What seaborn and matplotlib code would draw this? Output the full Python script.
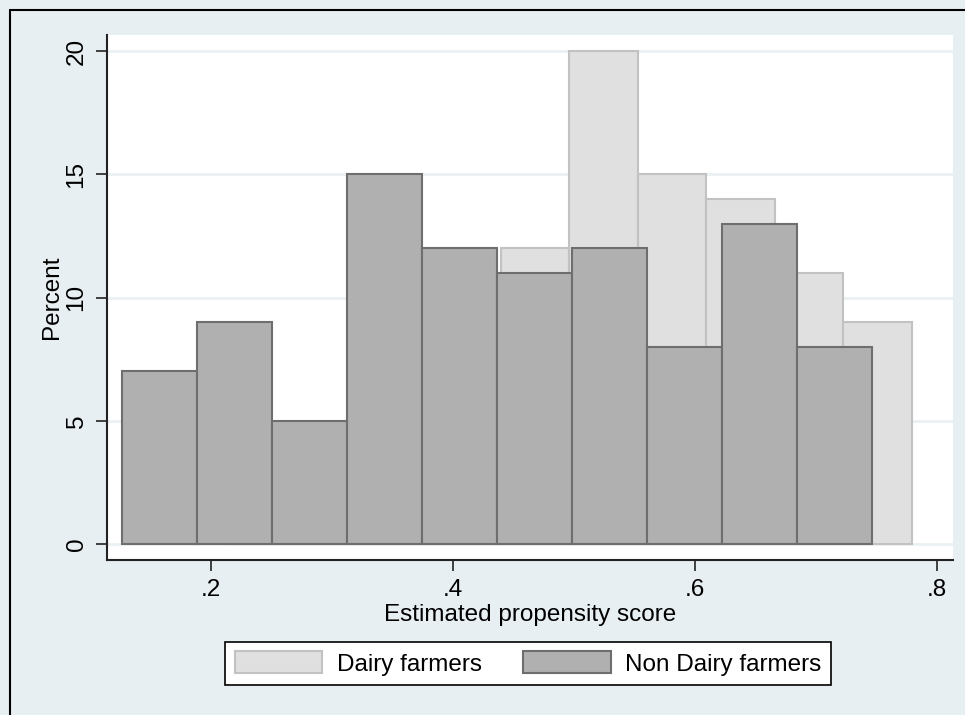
import numpy as np
import pandas as pd
import seaborn as sns
import matplotlib.pyplot as plt
from matplotlib.lines import Line2D
from matplotlib.patches import Patch

# percent per bin
nondairy_pct = [7, 9, 5, 15, 12, 11, 12, 8, 13, 8]
nondairy_start = 0.1264
nondairy_width = 0.062

# first four dairy bins sit behind the dark bars, guessed so the total is 100
dairy_pct = [3, 4, 5, 7, 12, 20, 15, 14, 11, 9]
dairy_start = 0.2128
dairy_width = 0.0566

group_labels = ["Dairy farmers", "Non Dairy farmers"]
xticks = [0.2, 0.4, 0.6, 0.8]
xtick_labels = [".2", ".4", ".6", ".8"]
yticks = [0, 5, 10, 15, 20]


def _bin_frame(start, width, pct):
    mids = start + width * (np.arange(len(pct)) + 0.5)
    df = pd.DataFrame({"x": mids, "pct": pct})
    binrange = (start, start + width * len(pct))
    return df, binrange


sns.set_theme(style="white")
plt.rcParams["font.family"] = ["Liberation Sans", "DejaVu Sans"]
plt.rcParams["text.color"] = "black"
plt.rcParams["axes.labelcolor"] = "black"
plt.rcParams["xtick.color"] = "black"
plt.rcParams["ytick.color"] = "black"

bg = "#e8eff2"
fig = plt.figure(figsize=(9.65, 7.15), dpi=100, facecolor=bg)
ax = fig.add_axes([107 / 965, 1 - 560 / 715, (953 - 107) / 965, (560 - 35) / 715])
ax.set_facecolor("white")

dairy_df, dairy_range = _bin_frame(dairy_start, dairy_width, dairy_pct)
non_df, non_range = _bin_frame(nondairy_start, nondairy_width, nondairy_pct)

for v in yticks:
    ax.axhline(v, color="#eaf1f3", lw=2, zorder=0)

sns.histplot(data=dairy_df, x="x", weights="pct", binwidth=dairy_width,
             binrange=dairy_range, ax=ax, color="#e0e0e0", edgecolor="#c2c2c2",
             linewidth=1.5, alpha=1, zorder=2)
sns.histplot(data=non_df, x="x", weights="pct", binwidth=nondairy_width,
             binrange=non_range, ax=ax, color="#b0b0b0", edgecolor="#6e6e6e",
             linewidth=1.5, alpha=1, zorder=3)

ax.set_xlim(0.114, 0.813)
ax.set_ylim(-0.649, 20.65)
ax.set_xticks(xticks)
ax.set_xticklabels(xtick_labels)
ax.set_yticks(yticks)
ax.set_yticklabels([str(v) for v in yticks], rotation=90, va="center")
ax.tick_params(axis="both", labelsize=17.5, length=8, width=1.2, color="#222222",
               direction="out", bottom=True, left=True, pad=6)
ax.set_xlabel("Estimated propensity score", fontsize=17.5, labelpad=2)
ax.set_ylabel("Percent", fontsize=17.5, labelpad=2)
ax.grid(False)
for side in ["top", "right"]:
    ax.spines[side].set_visible(False)
for side in ["left", "bottom"]:
    ax.spines[side].set_color("#222222")
    ax.spines[side].set_linewidth(1.5)

handles = [Patch(facecolor="#e0e0e0", edgecolor="#c2c2c2", linewidth=1.5),
           Patch(facecolor="#b0b0b0", edgecolor="#6e6e6e", linewidth=1.5)]
leg = fig.legend(handles, group_labels, loc="center", ncol=2,
                 bbox_to_anchor=(528 / 965, 1 - 663.5 / 715),
                 fontsize=17.5, frameon=True, fancybox=False,
                 handlelength=3.6, handleheight=1.0, handletextpad=0.6,
                 columnspacing=1.7, borderpad=0.4)
leg.get_frame().set_edgecolor("black")
leg.get_frame().set_linewidth(1.2)
leg.get_frame().set_facecolor("white")
leg.get_frame().set_alpha(1)

# outer frame edges of the stata graph region
fig.add_artist(Line2D([10 / 965, 10 / 965], [0, 1 - 10 / 715], color="black", lw=1.5))
fig.add_artist(Line2D([10 / 965, 1], [1 - 10 / 715, 1 - 10 / 715], color="black", lw=1.5))

fig.savefig("out.png", dpi=100, facecolor=bg)
